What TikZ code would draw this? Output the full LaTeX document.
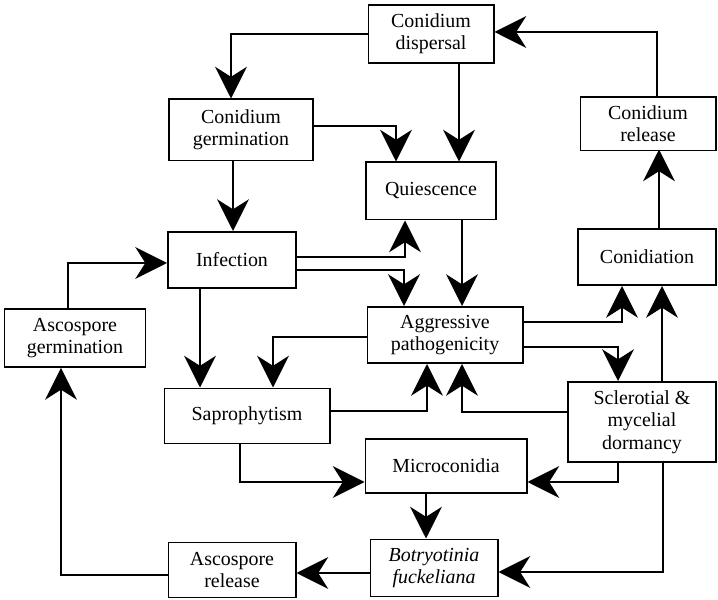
\documentclass[tikz,border=0pt]{standalone}
\usepackage{fontspec}
\setmainfont{Liberation Serif}
\usetikzlibrary{arrows.meta,calc}

\begin{document}
\begin{tikzpicture}[x=0.03cm,y=-0.03cm,
  box/.style={draw, line width=1.7pt, align=center, inner sep=0pt,
    font=\fontsize{17}{19}\selectfont},
  flow/.style={draw, line width=1.6pt,
    -{Stealth[length=0.95cm,width=0.95cm,inset=0.3cm]}}]
\useasboundingbox (0,0) rectangle (718,600);
% stages
\node[box, minimum width=3.75cm, minimum height=1.74cm] (disp) at (431,34) {Conidium\\dispersal};
\node[box, minimum width=4.32cm, minimum height=1.83cm] (germ) at (241,130) {Conidium\\germination};
\node[box, minimum width=3.9cm, minimum height=1.71cm] (quies) at (431,191) {Quiescence};
\node[box, minimum width=4.05cm, minimum height=1.59cm] (crel) at (648,124) {Conidium\\release};
\node[box, minimum width=4.14cm, minimum height=1.68cm] (conid) at (647,257) {Conidiation};
\node[box, minimum width=3.84cm, minimum height=1.68cm] (infect) at (232,260) {Infection};
\node[box, minimum width=4.23cm, minimum height=1.74cm] (ascg) at (75,338) {Ascospore\\germination};
\node[box, minimum width=4.65cm, minimum height=1.68cm] (aggr) at (445,335) {Aggressive\\pathogenicity};
\node[box, minimum width=4.95cm, minimum height=1.65cm] (sapro) at (247,416) {Saprophytism};
\node[box, minimum width=4.44cm, minimum height=2.4cm] (sclero) at (642,422) {Sclerotial \&\\mycelial\\dormancy};
\node[box, minimum width=4.83cm, minimum height=1.62cm] (micro) at (446,466) {Microconidia};
\node[box, minimum width=3.81cm, minimum height=1.71cm] (botry) at (434,568) {\textit{Botryotinia}\\\textit{fuckeliana}};
\node[box, minimum width=3.81cm, minimum height=1.65cm] (ascr) at (232,570) {Ascospore\\release};
% links
\path[flow] (disp.west) -| ($(germ.north)+(-10,0)$);
\path[flow] ($(disp.south)+(28,0)$) -- ($(quies.north)+(28,0)$);
\path[flow] ($(germ.east)+(0,-4)$) -| ($(quies.north)+(-35,0)$);
\path[flow] ($(germ.south)+(-8,0)$) -- ($(infect.north)+(1,0)$);
\path[flow] ($(infect.east)+(0,-3)$) -| ($(quies.south)+(-26,0)$);
\path[flow] ($(infect.east)+(0,10)$) -| ($(aggr.north)+(-41,0)$);
\path[flow] ($(quies.south)+(31,0)$) -- ($(aggr.north)+(17,0)$);
\path[flow] ($(infect.south)+(-32,0)$) -- ($(sapro.north)+(-47,0)$);
\path[flow] ($(aggr.west)+(0,2)$) -| ($(sapro.north)+(26,0)$);
\path[flow] ($(ascg.north)+(-7,0)$) |- ($(infect.west)+(0,3)$);
\path[flow] ($(ascr.west)+(0,5)$) -| ($(ascg.south)+(-14,0)$);
\path[flow] ($(sapro.east)+(0,-5)$) -| ($(aggr.south)+(-18,0)$);
\path[flow] ($(sclero.west)+(0,-10)$) -| ($(aggr.south)+(17,0)$);
\path[flow] ($(aggr.east)+(0,-13)$) -| ($(conid.south)+(-25,0)$);
\path[flow] ($(aggr.east)+(0,12)$) -| ($(sclero.north)+(-24,0)$);
\path[flow] ($(sclero.north)+(20,0)$) -- ($(conid.south)+(15,0)$);
\path[flow] ($(conid.north)+(12,0)$) -- ($(crel.north)+(11,53)$);
\path[flow] ($(crel.north)+(9,0)$) |- ($(disp.east)+(0,-2)$);
\path[flow] ($(sapro.south)+(-7,0)$) |- ($(micro.west)+(0,16)$);
\path[flow] ($(sclero.south)+(-24,0)$) |- ($(micro.east)+(0,16)$);
\path[flow] ($(micro.south)+(-20,0)$) -- ($(botry.north)+(-8,0)$);
\path[flow] ($(sclero.south)+(21,0)$) |- ($(botry.east)+(0,4)$);
\path[flow] ($(botry.west)+(0,5)$) -- ($(ascr.east)+(0,3)$);
\end{tikzpicture}
\end{document}
